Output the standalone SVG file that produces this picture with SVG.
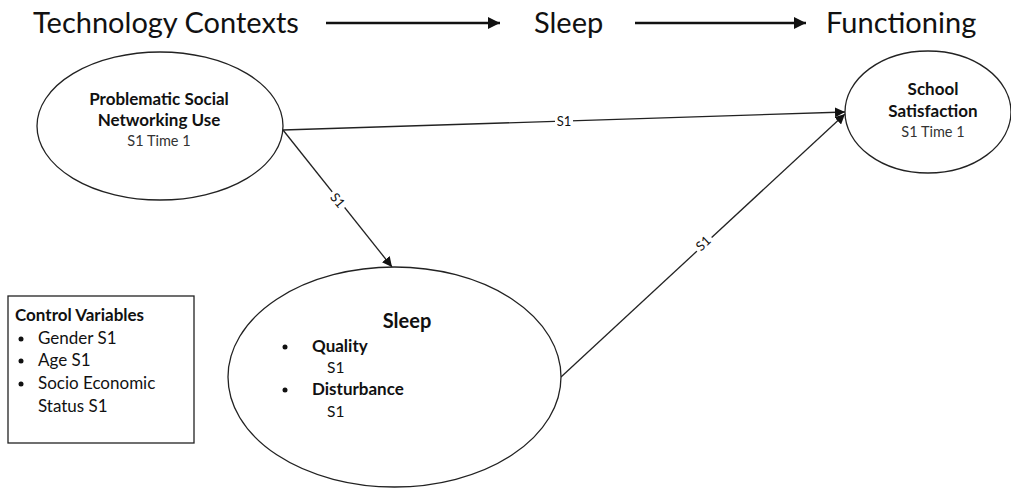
<svg xmlns="http://www.w3.org/2000/svg" width="1011" height="488" viewBox="0 0 1011 488">
  <defs>
    <marker id="arrow" viewBox="0 0 10 10" refX="10" refY="5" markerWidth="10" markerHeight="10" markerUnits="userSpaceOnUse" orient="auto">
      <path d="M0,0 L10,5 L0,10 z" fill="#111"/>
    </marker>
    <marker id="bigArrow" viewBox="0 0 10 10" refX="10" refY="5" markerWidth="12" markerHeight="12" markerUnits="userSpaceOnUse" orient="auto">
      <path d="M0,0 L10,5 L0,10 z" fill="#111"/>
    </marker>
  </defs>
  <style>
    text { font-family: Lato, "Liberation Sans", sans-serif; fill: #111; }
    .title { font-size: 29px; }
    .bold { font-weight: bold; font-size: 17px; }
    .sub { font-size: 14.5px; fill: #333; text-anchor: middle; }
    .item { font-size: 17px; }
    .node { fill: #fff; stroke: #222; stroke-width: 1.3; }
    .edge { stroke: #222; stroke-width: 1.3; fill: none; }
    .lbl { font-size: 13px; text-anchor: middle; dominant-baseline: central; }
    .lblbg { fill: #fff; }
    .mid { text-anchor: middle; }
  </style>
  <rect width="1011" height="488" fill="#fff"/>

  <!-- heading row -->
  <g id="heading">
    <text class="title" x="33" y="33">Technology Contexts</text>
    <line x1="326" y1="23" x2="500" y2="23" stroke="#111" stroke-width="2.5" marker-end="url(#bigArrow)"/>
    <text class="title" x="534" y="33">Sleep</text>
    <line x1="635" y1="23" x2="806" y2="23" stroke="#111" stroke-width="2.5" marker-end="url(#bigArrow)"/>
    <text class="title" x="826" y="33">Functioning</text>
  </g>

  <!-- connectors -->
  <g id="connectors">
    <line class="edge" x1="283" y1="130" x2="845" y2="112" marker-end="url(#arrow)"/>
    <rect class="lblbg" x="555" y="114" width="18" height="14"/>
    <text class="lbl" x="564" y="121">S1</text>

    <line class="edge" x1="283" y1="130" x2="392" y2="267" marker-end="url(#arrow)"/>
    <g transform="translate(338,200) rotate(51)">
      <rect class="lblbg" x="-10" y="-7" width="20" height="14"/>
      <text class="lbl" x="0" y="0">S1</text>
    </g>

    <line class="edge" x1="561" y1="377" x2="845" y2="114" marker-end="url(#arrow)"/>
    <g transform="translate(703,243) rotate(-43)">
      <rect class="lblbg" x="-10" y="-7" width="20" height="14"/>
      <text class="lbl" x="0" y="0">S1</text>
    </g>
  </g>

  <!-- predictor -->
  <g id="node-psnu">
    <ellipse class="node" cx="160" cy="126" rx="123" ry="74"/>
    <text class="bold mid" x="159" y="105">Problematic Social</text>
    <text class="bold mid" x="159" y="126">Networking Use</text>
    <text class="sub" x="159" y="146">S1 Time 1</text>
  </g>

  <!-- outcome -->
  <g id="node-school">
    <ellipse class="node" cx="928" cy="112" rx="83" ry="61"/>
    <text class="bold mid" x="933" y="95">School</text>
    <text class="bold mid" x="933" y="117">Satisfaction</text>
    <text class="sub" x="933" y="137">S1 Time 1</text>
  </g>

  <!-- mediator -->
  <g id="node-sleep">
    <ellipse class="node" cx="394.5" cy="377" rx="166.5" ry="110"/>
    <text class="bold mid" x="407" y="328" style="font-size:20px">Sleep</text>
    <circle cx="285" cy="347" r="2.5" fill="#111"/>
    <text class="bold" x="312" y="352">Quality</text>
    <text x="327" y="373" font-size="15.5" fill="#333">S1</text>
    <circle cx="285" cy="390" r="2.5" fill="#111"/>
    <text class="bold" x="312" y="395">Disturbance</text>
    <text x="327" y="417" font-size="15.5" fill="#333">S1</text>
  </g>

  <!-- covariates -->
  <g id="node-controls">
    <rect x="8" y="296" width="186" height="147" fill="#fff" stroke="#222" stroke-width="1.3"/>
    <text class="bold" x="15" y="321">Control Variables</text>
    <circle cx="21" cy="339" r="2.5" fill="#111"/>
    <text class="item" x="38" y="344">Gender S1</text>
    <circle cx="21" cy="361" r="2.5" fill="#111"/>
    <text class="item" x="38" y="366">Age S1</text>
    <circle cx="21" cy="384" r="2.5" fill="#111"/>
    <text class="item" x="38" y="389">Socio Economic</text>
    <text class="item" x="38" y="412">Status S1</text>
  </g>
</svg>
